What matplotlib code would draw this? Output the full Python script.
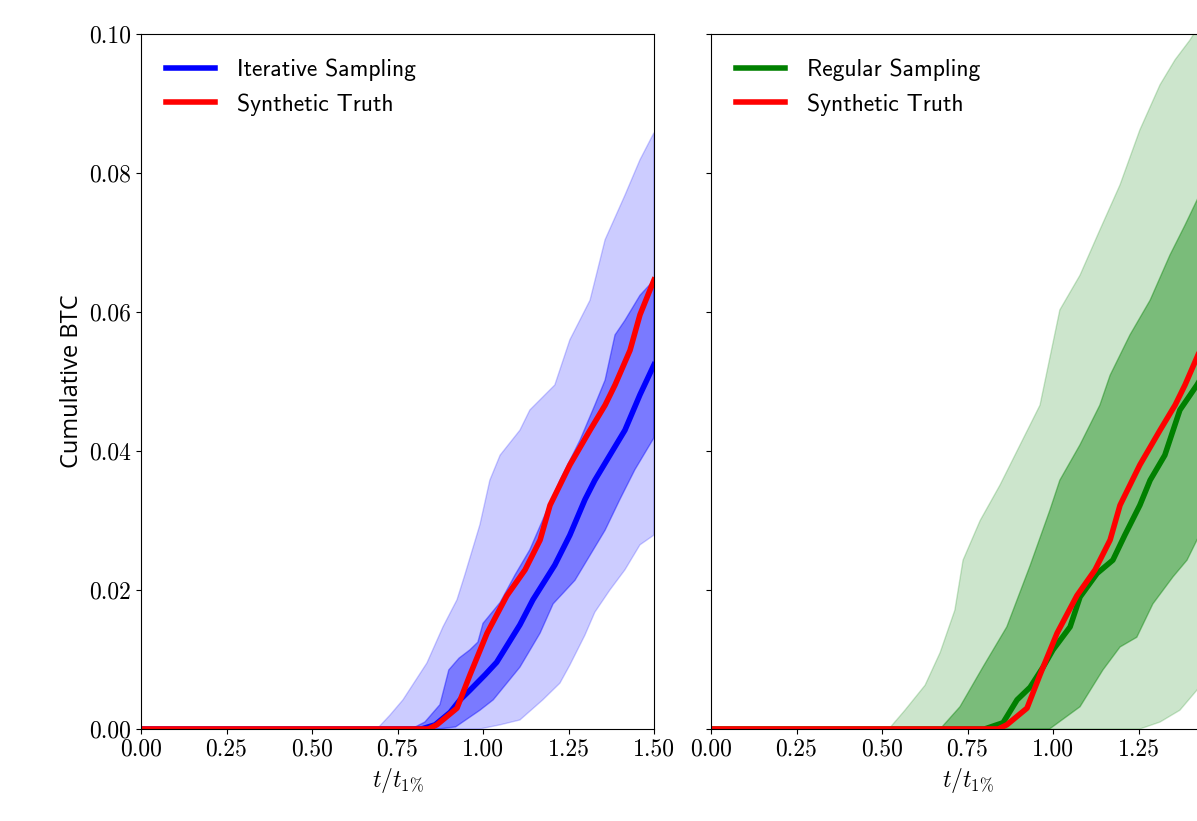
import matplotlib
matplotlib.use("Agg")
import matplotlib.pyplot as plt

plt.rcParams['mathtext.fontset'] = 'cm'
plt.rcParams['axes.formatter.use_mathtext'] = True

# ---------------- data ----------------
# Synthetic truth (same in both panels)
truth_x = [0, 0.84, 0.865, 0.924, 0.962, 1.012, 1.07, 1.123, 1.167, 1.196, 1.254, 1.313, 1.357, 1.386, 1.43, 1.459, 1.5]
truth_y = [0, 0, 0.0006, 0.003, 0.0078, 0.0138, 0.0192, 0.0229, 0.0272, 0.0322, 0.038, 0.043, 0.0466, 0.0495, 0.0545, 0.0596, 0.0646]

# Iterative sampling (left panel)
it_med_x = [0, 0.82, 0.86, 0.904, 0.933, 0.962, 1.006, 1.04, 1.108, 1.146, 1.21, 1.254, 1.298, 1.327, 1.371, 1.415, 1.459, 1.5]
it_med_y = [0, 0, 0.0006, 0.0024, 0.0042, 0.0056, 0.0078, 0.0096, 0.015, 0.0186, 0.0236, 0.0279, 0.033, 0.0358, 0.0394, 0.043, 0.0481, 0.0524]

it_in_up_x = [0, 0.79, 0.83, 0.874, 0.90, 0.93, 0.962, 0.985, 1.0, 1.03, 1.05, 1.094, 1.137, 1.181, 1.225, 1.284, 1.327, 1.357, 1.386, 1.415, 1.459, 1.5]
it_in_up_y = [0, 0, 0.001, 0.0035, 0.0085, 0.0102, 0.0114, 0.0125, 0.0152, 0.017, 0.0182, 0.0222, 0.0258, 0.0308, 0.0358, 0.0416, 0.0466, 0.0502, 0.0567, 0.0588, 0.0624, 0.0646]
it_in_lo_x = [0, 0.87, 0.92, 0.991, 1.03, 1.108, 1.167, 1.205, 1.269, 1.313, 1.357, 1.4, 1.444, 1.5]
it_in_lo_y = [0, 0, 0.0003, 0.0027, 0.0042, 0.0089, 0.0138, 0.018, 0.0214, 0.025, 0.0286, 0.033, 0.0373, 0.0419]

it_out_up_x = [0, 0.69, 0.728, 0.766, 0.836, 0.883, 0.924, 0.947, 0.991, 1.02, 1.05, 1.108, 1.137, 1.21, 1.254, 1.313, 1.357, 1.415, 1.459, 1.5]
it_out_up_y = [0, 0, 0.002, 0.0042, 0.0095, 0.0147, 0.0186, 0.0222, 0.0294, 0.0358, 0.0394, 0.043, 0.0459, 0.0495, 0.056, 0.0617, 0.0704, 0.0768, 0.0819, 0.0858]
it_out_lo_x = [0, 0.99, 1.05, 1.108, 1.175, 1.225, 1.254, 1.298, 1.327, 1.371, 1.415, 1.459, 1.5]
it_out_lo_y = [0, 0, 0.0006, 0.0013, 0.0042, 0.0066, 0.0092, 0.0135, 0.0168, 0.02, 0.0229, 0.0265, 0.0279]

# Regular sampling (right panel)
rg_med_x = [0, 0.80, 0.854, 0.895, 0.933, 0.971, 1.0, 1.05, 1.079, 1.129, 1.175, 1.21, 1.254, 1.284, 1.327, 1.371, 1.421, 1.5]
rg_med_y = [0, 0, 0.0009, 0.0042, 0.006, 0.0089, 0.0114, 0.0147, 0.019, 0.0224, 0.0243, 0.0279, 0.0322, 0.0358, 0.0394, 0.0459, 0.0495, 0.056]

rg_in_up_x = [0, 0.67, 0.728, 0.795, 0.865, 0.933, 0.991, 1.02, 1.079, 1.137, 1.167, 1.225, 1.284, 1.342, 1.386, 1.421, 1.5]
rg_in_up_y = [0, 0, 0.0032, 0.0089, 0.0147, 0.0235, 0.0315, 0.0358, 0.0409, 0.0466, 0.0509, 0.0567, 0.0617, 0.0682, 0.0725, 0.0761, 0.084]
rg_in_lo_x = [0, 0.99, 1.079, 1.146, 1.196, 1.245, 1.292, 1.351, 1.392, 1.421, 1.5]
rg_in_lo_y = [0, 0, 0.0032, 0.0085, 0.0118, 0.0132, 0.018, 0.0219, 0.0243, 0.0272, 0.035]

rg_out_up_x = [0, 0.52, 0.567, 0.626, 0.67, 0.713, 0.737, 0.787, 0.845, 0.904, 0.962, 1.02, 1.079, 1.137, 1.196, 1.254, 1.313, 1.357, 1.4, 1.45, 1.5]
rg_out_up_y = [0, 0, 0.0027, 0.0063, 0.011, 0.0171, 0.0243, 0.03, 0.0351, 0.0409, 0.0466, 0.0603, 0.0653, 0.0718, 0.0783, 0.0862, 0.0927, 0.0963, 0.0991, 0.103, 0.108]
rg_out_lo_x = [0, 1.254, 1.313, 1.371, 1.421, 1.5]
rg_out_lo_y = [0, 0, 0.001, 0.0027, 0.0056, 0.012]

x_ticks = [0.0, 0.25, 0.5, 0.75, 1.0, 1.25, 1.5]
x_tick_labels = ['0.00', '0.25', '0.50', '0.75', '1.00', '1.25', '1.50']
y_ticks = [0.0, 0.02, 0.04, 0.06, 0.08, 0.10]
y_tick_labels = ['0.00', '0.02', '0.04', '0.06', '0.08', '0.10']

FS = 17

fig = plt.figure(figsize=(11.97, 8.21), dpi=100)
ax1 = fig.add_axes([141/1197, 92/821, 513/1197, 695/821])
ax2 = fig.add_axes([711/1197, 92/821, 513/1197, 695/821])


def band(ax, ux, uy, lx, ly, color, alpha):
    px = list(ux) + list(lx[::-1])
    py = list(uy) + list(ly[::-1])
    ax.fill(px, py, color=color, alpha=alpha, lw=1)


def panel(ax, color, label, ox_u, oy_u, ox_l, oy_l, ix_u, iy_u, ix_l, iy_l, mx, my, show_ylabels):
    band(ax, ox_u, oy_u, ox_l, oy_l, color, 0.2)
    band(ax, ix_u, iy_u, ix_l, iy_l, color, 0.4)
    ax.plot(mx, my, color=color, lw=4, label=label)
    ax.plot(truth_x, truth_y, color='red', lw=4, label='Synthetic Truth')
    ax.set_xlim(0, 1.5)
    ax.set_ylim(0, 0.1)
    ax.set_xticks(x_ticks)
    ax.set_xticklabels(x_tick_labels, fontfamily='cmr10', fontsize=FS)
    ax.set_yticks(y_ticks)
    if show_ylabels:
        ax.set_yticklabels(y_tick_labels, fontfamily='cmr10', fontsize=FS)
    else:
        ax.set_yticklabels([])
    ax.set_xlabel(r'$t/t_{1\%}$', fontsize=FS)
    leg = ax.legend(loc='upper left', frameon=False, handlelength=2.1,
                    handletextpad=0.9, borderaxespad=0.65,
                    prop={'family': 'cmss10', 'size': FS})
    for t in leg.get_texts():
        t.set_fontfamily('cmss10')


panel(ax1, 'blue', 'Iterative Sampling', it_out_up_x, it_out_up_y, it_out_lo_x, it_out_lo_y,
      it_in_up_x, it_in_up_y, it_in_lo_x, it_in_lo_y, it_med_x, it_med_y, True)
panel(ax2, 'green', 'Regular Sampling', rg_out_up_x, rg_out_up_y, rg_out_lo_x, rg_out_lo_y,
      rg_in_up_x, rg_in_up_y, rg_in_lo_x, rg_in_lo_y, rg_med_x, rg_med_y, False)

ax1.set_ylabel('Cumulative BTC', fontfamily='Open Sans', fontsize=FS)

fig.savefig('out.png', dpi=100)
